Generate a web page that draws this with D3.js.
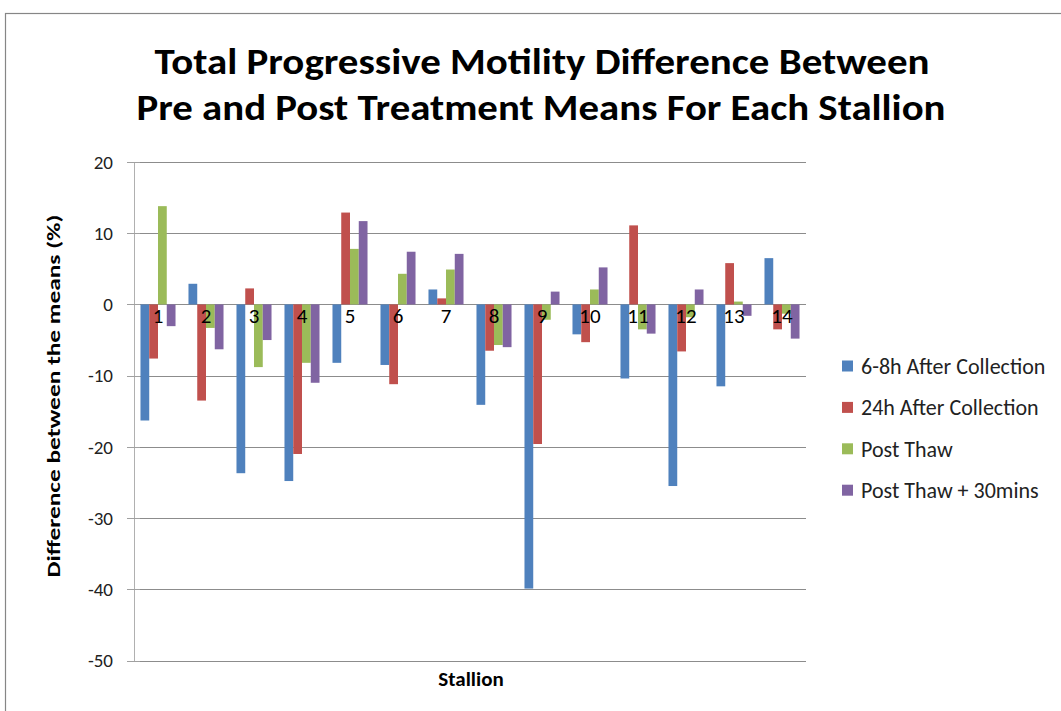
<!DOCTYPE html>
<html><head><meta charset="utf-8">
<script src="https://cdn.jsdelivr.net/npm/d3@7"></script>
<style>
html,body{margin:0;padding:0;background:#fff;}
svg{display:block;}
text{font-family:Calibri, Carlito, "Liberation Sans", Arial, sans-serif;}
</style></head>
<body>
<svg id="chart" width="1061" height="711"></svg>
<script>
const stallions = ["1","2","3","4","5","6","7","8","9","10","11","12","13","14"];
const seriesNames = ["6-8h After Collection","24h After Collection","Post Thaw","Post Thaw + 30mins"];
const s68h = [-16.3, 2.9, -23.7, -24.8, -8.2, -8.5, 2.1, -14.1, -39.9, -4.2, -10.4, -25.5, -11.5, 6.5];
const s24h = [-7.6, -13.5, 2.25, -21.0, 12.9, -11.2, 0.85, -6.5, -19.6, -5.3, 11.1, -6.6, 5.8, -3.5];
const postThaw = [13.8, -3.3, -8.8, -8.2, 7.8, 4.3, 4.9, -5.7, -2.15, 2.1, -3.5, -1.8, 0.4, -1.3];
const postThaw30 = [-3.05, -6.3, -5.0, -11.0, 11.7, 7.4, 7.1, -6.0, 1.8, 5.2, -4.1, 2.1, -1.6, -4.8];
const yTicks = [20, 10, 0, -10, -20, -30, -40, -50];
const colors = ["#4F81BD", "#C0504D", "#9BBB59", "#8064A2"];
const titleLines = ["Total Progressive Motility Difference Between", "Pre and Post Treatment Means For Each Stallion"];

const seriesValues = [s68h, s24h, postThaw, postThaw30];

const svg = d3.select("#chart");
// outer chart border
svg.append("rect").attr("x", 5.5).attr("y", 13.5).attr("width", 1100).attr("height", 800)
  .attr("fill", "#fff").attr("stroke", "#868686").attr("stroke-width", 1.2);

const pLeft = 134, pRight = 806, pTop = 162, pBottom = 660.5;
const y = d3.scaleLinear().domain([-50, 20]).range([pBottom, pTop]);
const x0 = d3.scaleBand().domain(stallions).range([pLeft, pRight]).paddingInner(0.27).paddingOuter(0.135);
const x1 = d3.scaleBand().domain(d3.range(4)).range([0, x0.bandwidth()]);

// gridlines
svg.append("g").selectAll("line").data(yTicks).join("line")
  .attr("x1", pLeft).attr("x2", pRight)
  .attr("y1", d => Math.round(y(d)) + 0.5).attr("y2", d => Math.round(y(d)) + 0.5)
  .attr("stroke", "#8c8c8c").attr("stroke-width", 1);

// y axis line + crossing ticks
svg.append("line").attr("x1", pLeft + 0.5).attr("x2", pLeft + 0.5).attr("y1", pTop).attr("y2", pBottom + 0.5)
  .attr("stroke", "#b0b0b0").attr("stroke-width", 1);
svg.append("g").selectAll("line").data(yTicks).join("line")
  .attr("x1", pLeft - 7).attr("x2", pLeft + 6)
  .attr("y1", d => Math.round(y(d)) + 0.5).attr("y2", d => Math.round(y(d)) + 0.5)
  .attr("stroke", "#a0a0a0").attr("stroke-width", 1);

// tick labels
svg.append("g").selectAll("text").data(yTicks).join("text")
  .attr("x", 113).attr("y", d => y(d)).attr("dy", "0.35em")
  .attr("text-anchor", "end").attr("font-size", 19).attr("fill", "#222")
  .text(d => d);

// bars
const groups = svg.append("g").selectAll("g").data(stallions).join("g")
  .attr("transform", d => `translate(${x0(d)},0)`);
groups.selectAll("rect").data((d, i) => seriesValues.map((s, k) => ({k, v: s[i]}))).join("rect")
  .attr("x", d => x1(d.k)).attr("width", x1.bandwidth())
  .attr("y", d => y(Math.max(0, d.v))).attr("height", d => Math.abs(y(d.v) - y(0)))
  .attr("fill", d => colors[d.k]);

// category labels
svg.append("g").selectAll("text").data(stallions).join("text")
  .attr("x", d => x0(d) + x0.bandwidth() / 2).attr("y", y(0) + 19)
  .attr("text-anchor", "middle").attr("font-size", 21).attr("fill", "#000")
  .text(d => d);

// title
svg.append("g").selectAll("text").data(titleLines).join("text")
  .attr("x", (d, i) => i === 0 ? 542 : 541).attr("y", (d, i) => 74 + i * 46)
  .attr("text-anchor", "middle").attr("font-size", 37).attr("font-weight", "bold")
  .attr("textLength", (d, i) => i === 0 ? 775 : 809).attr("lengthAdjust", "spacingAndGlyphs")
  .text(d => d);

// axis titles
svg.append("text").attr("transform", "translate(60,396) rotate(-90)")
  .attr("text-anchor", "middle").attr("font-size", 19).attr("font-weight", "bold")
  .attr("textLength", 363).attr("lengthAdjust", "spacingAndGlyphs")
  .text("Difference between the means (%)");
svg.append("text").attr("x", 471).attr("y", 686).attr("text-anchor", "middle")
  .attr("font-size", 21).attr("font-weight", "bold").text("Stallion");

// legend
const lg = svg.append("g").selectAll("g").data(seriesNames).join("g")
  .attr("transform", (d, i) => `translate(842,${366 + i * 41.4})`);
lg.append("rect").attr("x", 0).attr("y", -5.5).attr("width", 11).attr("height", 11).attr("fill", (d, i) => colors[i]);
lg.append("text").attr("x", 19).attr("y", 0).attr("dy", "0.35em").attr("font-size", 22).attr("fill", "#222")
  .text(d => d);
</script>
</body></html>
